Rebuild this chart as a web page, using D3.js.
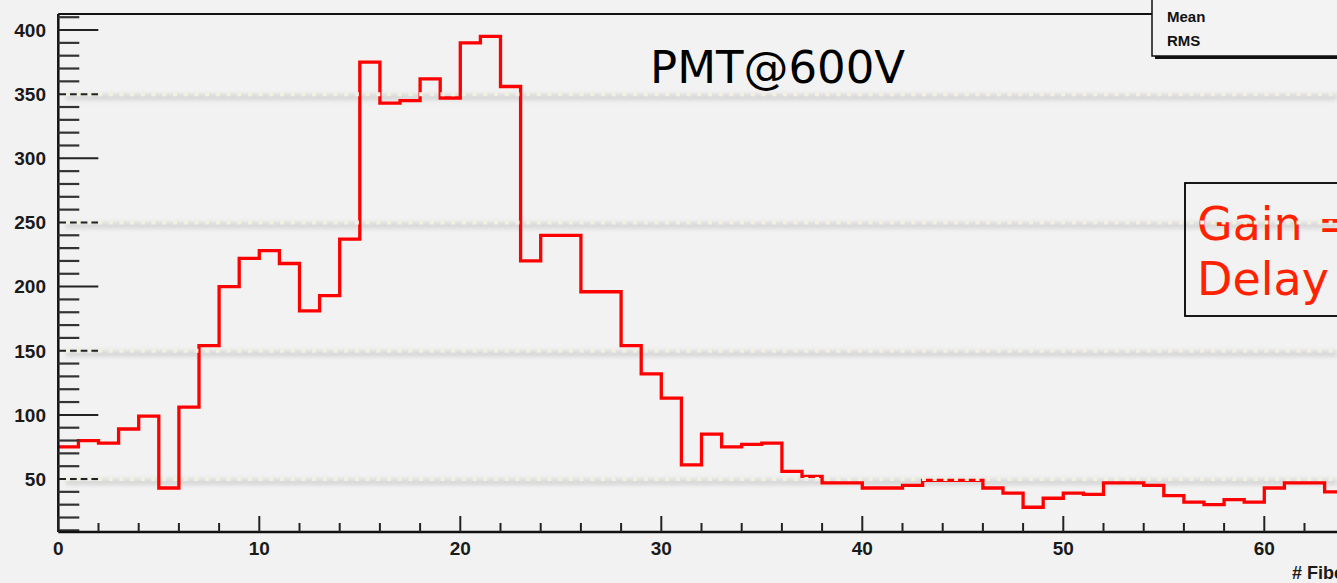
<!DOCTYPE html>
<html>
<head>
<meta charset="utf-8">
<script src="https://cdn.jsdelivr.net/npm/d3@7"></script>
<style>
    html, body { margin: 0; padding: 0; background: #f2f2f2; overflow: hidden; }
</style>
</head>
<body>
<div id="chart"></div>
<script>
// counts per fiber bin (bin i covers [i, i+1))
const binCounts = [
    75, 80, 78, 89, 99, 43, 106, 154, 200, 222,
    228, 218, 181, 193, 237, 375, 343, 345, 362, 347,
    390, 395, 356, 220, 240, 240, 196, 196, 154, 132,
    113, 61, 85, 75, 77, 78, 56, 52, 47, 47,
    43, 43, 45, 49, 49, 49, 43, 39, 28, 35,
    39, 38, 47, 47, 45, 37, 32, 30, 34, 32,
    43, 47, 47, 40
]
const yTickValues = [50, 100, 150, 200, 250, 300, 350, 400]
const xTickValues = [0, 10, 20, 30, 40, 50, 60]
const gridValues = [50, 150, 250, 350]
const statLabels = ['Entries', 'Mean', 'RMS']
const fitLines = ['Gain =', 'Delay =']
const titleText = 'PMT@600V'
const xTitle = '# Fiber'

const width = 1337
const height = 583

const svg = d3.select('#chart').append('svg')
svg.attr('width', width)
svg.attr('height', height)

const defs = svg.append('defs')
defs.append('filter')
    .attr('id', 'blur')
    .attr('filterUnits', 'userSpaceOnUse')
    .attr('x', 0).attr('y', 0)
    .attr('width', width).attr('height', height)
    .append('feGaussianBlur')
    .attr('stdDeviation', 2)

svg.append('rect')
    .attr('width', width)
    .attr('height', height)
    .attr('fill', '#f2f2f2')

const x = d3.scaleLinear().domain([0, 60]).range([58.3, 1264.3])
const y = d3.scaleLinear().domain([8.7, 412.5]).range([532, 14])

// soft shadow under the dotted grid lines
svg.append('g')
    .attr('class', 'grid-shadow')
    .selectAll('rect')
    .data(gridValues)
    .enter()
    .append('rect')
    .attr('x', 66).attr('width', width - 66)
    .attr('y', (d) => y(d)).attr('height', 6)
    .attr('fill', '#d6d6d6')
    .attr('filter', 'url(#blur)')

// histogram outline
const stepPoints = binCounts.map((c, i) => [i, c])
stepPoints.push([binCounts.length, binCounts[binCounts.length - 1]])

svg.append('path')
    .datum(stepPoints)
    .attr('fill', 'none')
    .attr('stroke', '#ff0000')
    .attr('stroke-width', 3.3)
    .attr('d', d3.line()
        .x((d) => x(d[0]))
        .y((d) => y(d[1]))
        .curve(d3.curveStepAfter))

// y axis with ROOT-like long ticks
const yAxis = svg.append('g').attr('class', 'y-axis')
yAxis.append('line')
    .attr('x1', x(0)).attr('x2', x(0))
    .attr('y1', y.range()[1]).attr('y2', y.range()[0])
    .attr('stroke', '#111').attr('stroke-width', 2.5)

const yMinor = d3.range(10, 411, 10).filter((v) => v % 50 !== 0)
yAxis.selectAll('line.minor')
    .data(yMinor)
    .enter()
    .append('line')
    .attr('class', 'minor')
    .attr('x1', x(0)).attr('x2', x(0) + 21)
    .attr('y1', (d) => y(d)).attr('y2', (d) => y(d))
    .attr('stroke', '#333').attr('stroke-width', 2.2)

yAxis.selectAll('line.major')
    .data(yTickValues)
    .enter()
    .append('line')
    .attr('class', 'major')
    .attr('x1', x(0)).attr('x2', x(0) + 40)
    .attr('y1', (d) => y(d)).attr('y2', (d) => y(d))
    .attr('stroke', '#222').attr('stroke-width', 2)

yAxis.selectAll('text')
    .data(yTickValues)
    .enter()
    .append('text')
    .attr('x', 46)
    .attr('y', (d) => y(d))
    .attr('dy', '0.36em')
    .attr('text-anchor', 'end')
    .attr('font-family', 'Liberation Sans, Arial, sans-serif')
    .attr('font-weight', 'bold')
    .attr('font-size', 19)
    .attr('fill', '#1a1a1a')
    .text((d) => d)

// x axis
const xAxis = svg.append('g').attr('class', 'x-axis')
xAxis.append('line')
    .attr('x1', x(0)).attr('x2', width)
    .attr('y1', y.range()[0]).attr('y2', y.range()[0])
    .attr('stroke', '#111').attr('stroke-width', 2.5)

const xMinor = d3.range(2, 66, 2).filter((v) => v % 10 !== 0)
xAxis.selectAll('line.minor')
    .data(xMinor)
    .enter()
    .append('line')
    .attr('class', 'minor')
    .attr('x1', (d) => x(d)).attr('x2', (d) => x(d))
    .attr('y1', 532).attr('y2', 523)
    .attr('stroke', '#222').attr('stroke-width', 2)

xAxis.selectAll('line.major')
    .data(xTickValues)
    .enter()
    .append('line')
    .attr('class', 'major')
    .attr('x1', (d) => x(d)).attr('x2', (d) => x(d))
    .attr('y1', 532).attr('y2', 516)
    .attr('stroke', '#222').attr('stroke-width', 2)

xAxis.selectAll('text')
    .data(xTickValues)
    .enter()
    .append('text')
    .attr('x', (d) => x(d))
    .attr('y', 555)
    .attr('text-anchor', 'middle')
    .attr('font-family', 'Liberation Sans, Arial, sans-serif')
    .attr('font-weight', 'bold')
    .attr('font-size', 19)
    .attr('fill', '#1a1a1a')
    .text((d) => d)

svg.append('text')
    .attr('x', 1292)
    .attr('y', 579)
    .attr('font-family', 'Liberation Sans, Arial, sans-serif')
    .attr('font-weight', 'bold')
    .attr('font-size', 18)
    .attr('fill', '#1a1a1a')
    .text(xTitle)

// top frame
svg.append('line')
    .attr('x1', x(0)).attr('x2', 1152)
    .attr('y1', 14).attr('y2', 14)
    .attr('stroke', '#111').attr('stroke-width', 2)

// stats box (cut at top)
svg.append('rect')
    .attr('x', 1155).attr('y', -20)
    .attr('width', 200).attr('height', 79)
    .attr('fill', '#111')
svg.append('rect')
    .attr('x', 1152).attr('y', -20)
    .attr('width', 200).attr('height', 76)
    .attr('fill', '#f3f3f3')
    .attr('stroke', '#111').attr('stroke-width', 1.5)
svg.append('g')
    .selectAll('text')
    .data(statLabels)
    .enter()
    .append('text')
    .attr('x', 1167)
    .attr('y', (d, i) => -2 + i * 24)
    .attr('font-family', 'Liberation Sans, Arial, sans-serif')
    .attr('font-weight', 'bold')
    .attr('font-size', 15)
    .attr('fill', '#111')
    .text((d) => d)

// title text
svg.append('text')
    .attr('x', 650)
    .attr('y', 83)
    .attr('font-family', 'DejaVu Sans, sans-serif')
    .attr('font-size', 45)
    .attr('fill', '#000')
    .text(titleText)

// fit result box
svg.append('rect')
    .attr('x', 1185).attr('y', 183)
    .attr('width', 200).attr('height', 133)
    .attr('fill', 'none')
    .attr('stroke', '#000').attr('stroke-width', 1.8)
svg.append('g')
    .selectAll('text')
    .data(fitLines)
    .enter()
    .append('text')
    .attr('x', 1197)
    .attr('y', (d, i) => 240 + i * 55)
    .attr('font-family', 'DejaVu Sans, sans-serif')
    .attr('font-size', 46)
    .attr('fill', '#ff2200')
    .text((d) => d)

// dotted grid lines, drawn over everything
svg.append('g')
    .attr('class', 'grid')
    .selectAll('line')
    .data(gridValues)
    .enter()
    .append('line')
    .attr('x1', 66).attr('x2', width)
    .attr('y1', (d) => y(d)).attr('y2', (d) => y(d))
    .attr('stroke', '#f2f0df').attr('stroke-width', 4)
    .attr('stroke-dasharray', '4,6.7')
</script>
</body>
</html>
